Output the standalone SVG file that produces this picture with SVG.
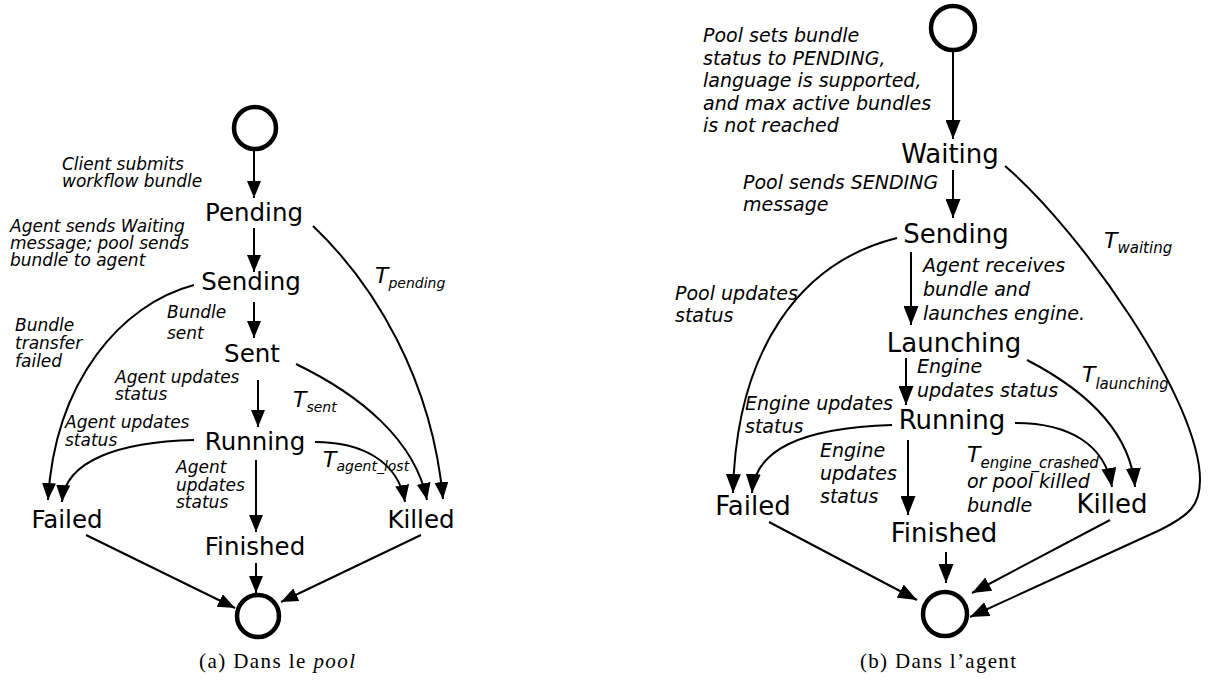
<svg xmlns="http://www.w3.org/2000/svg" width="1219" height="680" viewBox="0 0 1219 680">
<defs>
<marker id="ah" viewBox="0 0 17 14" refX="17" refY="7" markerWidth="17" markerHeight="14" markerUnits="userSpaceOnUse" orient="auto">
<path d="M0,0 L17,7 L0,14 z" fill="#000"/>
</marker>
<marker id="ahr" viewBox="0 0 19 15" refX="19" refY="7.5" markerWidth="19" markerHeight="15" markerUnits="userSpaceOnUse" orient="auto">
<path d="M0,0 L19,7.5 L0,15 z" fill="#000"/>
</marker>
<style>
.e{fill:none;stroke:#000;stroke-width:2;marker-end:url(#ah)}
.er{fill:none;stroke:#000;stroke-width:2;marker-end:url(#ahr)}
.c{fill:none;stroke:#000;stroke-width:4.5}
.nl{font-family:"DejaVu Sans",sans-serif;font-size:24.5px;text-anchor:middle;fill:#000}
.nr{font-family:"DejaVu Sans",sans-serif;font-size:26px;text-anchor:middle;fill:#000}
.ll{font-family:"DejaVu Sans",sans-serif;font-size:17px;font-style:italic;fill:#000}
.lr{font-family:"DejaVu Sans",sans-serif;font-size:19px;font-style:italic;fill:#000}
.t{font-family:"DejaVu Sans",sans-serif;font-size:22px;font-style:italic;fill:#000}
.sl{font-size:14px}
.sr{font-size:15px}
.cap{font-family:"Liberation Serif",serif;font-size:21px;fill:#000}
</style>
</defs>
<rect width="1219" height="680" fill="#fff"/>

<g id="connectors">
<path class="e" d="M254,151 L254,198"/>
<path class="e" d="M254,228 L254,272"/>
<path class="e" d="M254,302 L254,338"/>
<path class="e" d="M258,380 L258,427"/>
<path class="e" d="M256,460 L256,532"/>
<path class="e" d="M256,563 L256,593"/>
<path class="e" d="M86,535 L235,608"/>
<path class="e" d="M421,535 L281,602"/>
<path class="e" d="M194,285 C122,304 55,380 48,500"/>
<path class="e" d="M194,440 C120,442 65,460 62,502"/>
<path class="e" d="M313,226 C375,285 432,380 443,499"/>
<path class="e" d="M296,364 C360,395 415,440 427,500"/>
<path class="e" d="M315,442 C360,442 398,460 405,502"/>
<path class="er" d="M953,52 L953,139"/>
<path class="er" d="M953,170 L953,218"/>
<path class="er" d="M911,252 L911,325"/>
<path class="er" d="M906,358 L906,405"/>
<path class="er" d="M908,440 L908,515"/>
<path class="er" d="M946,552 L946,583"/>
<path class="er" d="M769,522 L917,600"/>
<path class="er" d="M1110,520 L972,593"/>
<path class="er" d="M1005,166 C1080,230 1200,400 1200,480 C1200,505 1190,515 1160,530 L970,617"/>
<path class="er" d="M1027,360 C1085,390 1130,430 1135,487"/>
<path class="er" d="M1015,423 C1070,423 1105,445 1112,487"/>
<path class="er" d="M897,238 C800,262 736,350 733,493"/>
<path class="er" d="M892,425 C800,428 755,450 752,493"/>
</g>

<g id="labels">
<text class="ll" x="62" y="170">Client submits<tspan x="62" dy="17">workflow bundle</tspan></text>
<text class="ll" x="10" y="232">Agent sends Waiting<tspan x="10" dy="17">message; pool sends</tspan><tspan x="10" dy="17">bundle to agent</tspan></text>
<text class="ll" x="167" y="318">Bundle<tspan x="167" dy="21">sent</tspan></text>
<text class="ll" x="15" y="331">Bundle<tspan x="15" dy="18">transfer</tspan><tspan x="15" dy="18">failed</tspan></text>
<text class="ll" x="115" y="383">Agent updates<tspan x="115" dy="17">status</tspan></text>
<text class="ll" x="65" y="428">Agent updates<tspan x="65" dy="18">status</tspan></text>
<text class="ll" x="176" y="473">Agent<tspan x="176" dy="18">updates</tspan><tspan x="176" dy="17">status</tspan></text>
<text class="t" x="375" y="283">T<tspan class="sl" dy="5">pending</tspan></text>
<text class="t" x="293" y="407">T<tspan class="sl" dy="5">sent</tspan></text>
<text class="t" x="323" y="467">T<tspan class="sl" dy="4">agent_lost</tspan></text>

<text class="lr" x="703" y="42">Pool sets bundle<tspan x="703" dy="22.5">status to PENDING,</tspan><tspan x="703" dy="22.5">language is supported,</tspan><tspan x="703" dy="22.5">and max active bundles</tspan><tspan x="703" dy="22.5">is not reached</tspan></text>
<text class="lr" x="743" y="189">Pool sends SENDING<tspan x="743" dy="22">message</tspan></text>
<text class="lr" x="923" y="272">Agent receives<tspan x="923" dy="24">bundle and</tspan><tspan x="923" dy="24">launches engine.</tspan></text>
<text class="lr" x="917" y="373">Engine<tspan x="917" dy="24">updates status</tspan></text>
<text class="lr" x="675" y="300">Pool updates<tspan x="675" dy="22">status</tspan></text>
<text class="lr" x="745" y="410">Engine updates<tspan x="745" dy="23">status</tspan></text>
<text class="lr" x="820" y="457">Engine<tspan x="820" dy="23">updates</tspan><tspan x="820" dy="23">status</tspan></text>
<text class="t" x="967" y="462">T<tspan class="sr" dy="6">engine_crashed</tspan></text>
<text class="lr" x="967" y="488">or pool killed<tspan x="967" dy="24">bundle</tspan></text>
<text class="t" x="1104" y="248">T<tspan class="sr" dy="5">waiting</tspan></text>
<text class="t" x="1082" y="382">T<tspan class="sr" dy="7">launching</tspan></text>
</g>

<g id="a-start"><circle class="c" cx="255" cy="128" r="21"/></g>
<g id="a-pending"><text class="nl" x="254" y="221">Pending</text></g>
<g id="a-sending"><text class="nl" x="251" y="290">Sending</text></g>
<g id="a-sent"><text class="nl" x="252" y="362">Sent</text></g>
<g id="a-running"><text class="nl" x="255" y="450">Running</text></g>
<g id="a-failed"><text class="nl" x="67" y="528">Failed</text></g>
<g id="a-finished"><text class="nl" x="255" y="555">Finished</text></g>
<g id="a-killed"><text class="nl" x="421" y="528">Killed</text></g>
<g id="a-end"><circle class="c" cx="258" cy="616" r="21"/></g>

<g id="b-start"><circle class="c" cx="953" cy="28" r="22"/></g>
<g id="b-waiting"><text class="nr" x="950" y="163">Waiting</text></g>
<g id="b-sending"><text class="nr" x="956" y="243">Sending</text></g>
<g id="b-launching"><text class="nr" x="954" y="352">Launching</text></g>
<g id="b-running"><text class="nr" x="952" y="429">Running</text></g>
<g id="b-failed"><text class="nr" x="753" y="515">Failed</text></g>
<g id="b-finished"><text class="nr" x="944" y="542">Finished</text></g>
<g id="b-killed"><text class="nr" x="1112" y="513">Killed</text></g>
<g id="b-end"><circle class="c" cx="945" cy="614" r="22"/></g>

<g id="captions">
<text class="cap" x="199" y="668" textLength="156" lengthAdjust="spacing">(a) Dans le <tspan font-style="italic">pool</tspan></text>
<text class="cap" x="860" y="668" textLength="156" lengthAdjust="spacing">(b) Dans l’agent</text>
</g>
</svg>
